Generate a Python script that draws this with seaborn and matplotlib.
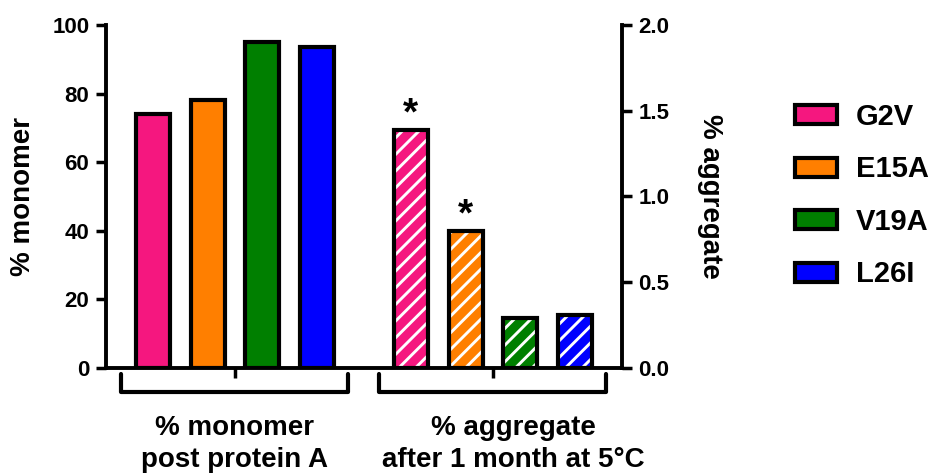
import pandas as pd
import seaborn as sns
import matplotlib.pyplot as plt
from matplotlib.patches import Patch, Rectangle

# data
variants = ['G2V', 'E15A', 'V19A', 'L26I']
colors = ['#F5177F', '#FF7F00', '#007F00', '#0000FF']
monomer = [74, 78, 95, 93.5]          # % monomer post protein A
aggregate = [1.39, 0.80, 0.29, 0.31]  # % aggregate after 1 month at 5 C
significant = [True, True, False, False]
groups = ['monomer', 'aggregate']
group_labels = [['% monomer', 'post protein A'],
                ['% aggregate', 'after 1 month at 5°C']]

df_mono = pd.DataFrame({'group': groups[0], 'variant': variants, 'value': monomer})
df_agg = pd.DataFrame({'group': groups[1], 'variant': variants, 'value': aggregate})

sns.set_style('ticks')
plt.rcParams['font.family'] = ['Liberation Sans', 'DejaVu Sans']
plt.rcParams['font.weight'] = 'bold'
plt.rcParams['axes.labelweight'] = 'bold'
plt.rcParams['hatch.linewidth'] = 2.1
plt.rcParams['text.color'] = 'black'
plt.rcParams['axes.labelcolor'] = 'black'
plt.rcParams['xtick.color'] = 'black'
plt.rcParams['ytick.color'] = 'black'
plt.rcParams['axes.edgecolor'] = 'black'

fig = plt.figure(figsize=(9.32, 4.76), dpi=100)
ax = fig.add_axes([0.1137, 0.2269, 0.5536, 0.7206])
ax2 = ax.twinx()

bar_kw = dict(x='group', y='value', hue='variant', order=groups, hue_order=variants,
              palette=colors, saturation=1, width=0.85, gap=0.38,
              edgecolor='black', linewidth=3, legend=False)
sns.barplot(data=df_mono, ax=ax, **bar_kw)
sns.barplot(data=df_agg, ax=ax2, **bar_kw)

# hatched aggregate bars: white stripes + black outline
for p, star in zip(ax2.patches, significant):
    p.set_hatch('//')
    p.set_edgecolor('white')
    p.set_linewidth(0)
    ax2.add_patch(Rectangle(p.get_xy(), p.get_width(), p.get_height(),
                            fill=False, edgecolor='black', linewidth=3))
    if star:
        ax2.annotate('*', xy=(p.get_x() + p.get_width() / 2, p.get_height()),
                     xytext=(0, -2), textcoords='offset points',
                     ha='center', va='bottom', fontsize=28, fontweight='bold')

ax.set_ylim(0, 100)
ax2.set_ylim(0, 2.0)
ax.set_xlim(-0.5, 1.5)
ax.set_yticks([0, 20, 40, 60, 80, 100])
ax2.set_yticks([0, 0.5, 1.0, 1.5, 2.0])
ax2.set_yticklabels(['0.0', '0.5', '1.0', '1.5', '2.0'])
ax.set_xticks([0, 1])
ax.set_xticklabels(['', ''])
ax.set_xlabel('')
ax2.set_xlabel('')

ax.set_ylabel('% monomer', fontsize=20, labelpad=12)
ax2.set_ylabel('% aggregate', fontsize=20, rotation=270, va='bottom', labelpad=20)

for a in (ax, ax2):
    for s in a.spines.values():
        s.set_linewidth(2.8)
    a.tick_params(width=2.5, length=7, labelsize=16, pad=5)
ax.spines['top'].set_visible(False)
ax.spines['right'].set_visible(False)
ax2.spines['top'].set_visible(False)
ax2.spines['left'].set_visible(False)
ax2.spines['bottom'].set_visible(False)

# brackets under each group
tr = ax.get_xaxis_transform()
for i in range(len(groups)):
    ax.plot([i - 0.44, i - 0.44, i + 0.44, i + 0.44], [-0.018, -0.07, -0.07, -0.018],
            transform=tr, clip_on=False, color='black', lw=3)

# group labels
label_x = [0, 1.08]
for x, lines in zip(label_x, group_labels):
    ax.text(x, -0.195, lines[0], transform=tr, ha='center', va='baseline', fontsize=20)
    ax.text(x, -0.289, lines[1], transform=tr, ha='center', va='baseline', fontsize=20)

handles = [Patch(facecolor=c, edgecolor='black', linewidth=3) for c in colors]
fig.legend(handles, variants, loc='center left', bbox_to_anchor=(0.853, 0.589),
           frameon=False, fontsize=21, handlelength=1.45, handleheight=0.62,
           handletextpad=0.65, labelspacing=0.84, borderpad=0, borderaxespad=0)

plt.savefig('out.png', dpi=100)
